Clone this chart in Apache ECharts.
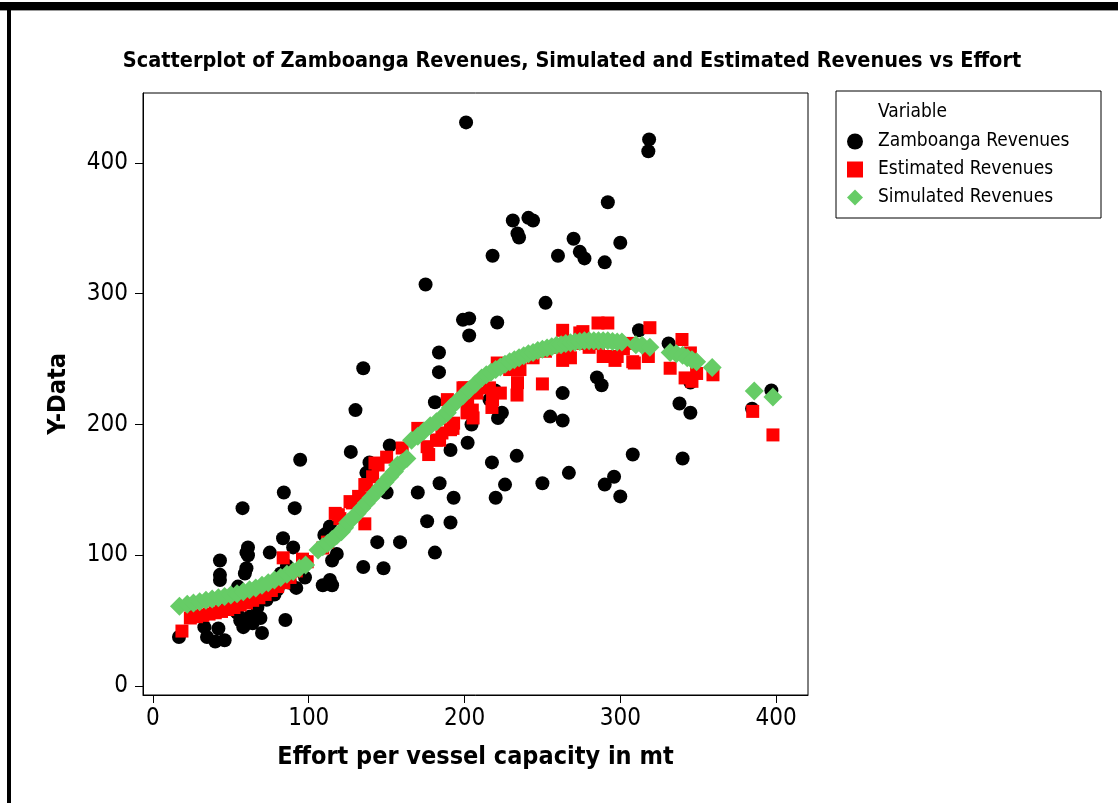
<!DOCTYPE html>
<html>
<head>
<meta charset="utf-8">
<script src="https://cdn.jsdelivr.net/npm/echarts@6/dist/echarts.min.js"></script>
<style>
  html, body { margin: 0; padding: 0; background: #fff; }
  #chart { width: 1118px; height: 803px; }
</style>
</head>
<body>
<div id="chart"></div>
<script>
// data
const seriesNames = ['Zamboanga Revenues', 'Estimated Revenues', 'Simulated Revenues'];
const xTicks = [0, 100, 200, 300, 400];
const yTicks = [0, 100, 200, 300, 400];

const zamboanga = [
  [16.7, 37.5], [25.7, 53], [33, 45], [34.7, 37.5], [40, 34], [46, 35], [42, 44],
  [43, 96], [43, 85], [43, 81], [54, 56], [56, 50], [62, 53], [54.6, 76], [60, 102],
  [60, 90], [57.5, 136], [58, 66], [59, 86], [61, 106], [61, 100], [67, 60], [69, 52],
  [70, 40.5], [73, 66], [75, 102], [58, 45], [48, 62], [52, 58], [64, 48], [66, 72],
  [78, 70], [80, 74], [88, 79], [95, 88], [82, 86], [86, 92],
  [84, 148], [91, 136], [94.5, 173], [83.5, 113], [90, 106], [85, 50.5], [92, 75],
  [97.6, 83], [97.6, 96], [109, 77], [115, 77], [113.6, 81], [115, 96], [118, 101],
  [110, 115.5], [111.7, 117], [113.6, 122], [127, 179], [130, 211], [135, 243],
  [137, 163], [139, 171], [135, 91], [144, 110], [148, 90], [150, 148], [152, 184],
  [158.6, 110], [170, 148], [175, 307], [176, 126], [181, 102], [181, 217],
  [183.6, 240], [183.6, 255], [184, 155], [191, 180.5], [191, 125], [193, 144],
  [199, 280], [201, 431], [203, 281], [203, 268], [202, 186], [204.5, 200],
  [218, 329], [221, 278], [216, 219], [221.5, 205], [217.6, 171], [220, 144],
  [226, 154], [224, 209], [219.6, 226], [231, 356], [234, 346], [235, 343],
  [241, 358], [244, 356], [233.5, 176], [252, 293], [250, 155], [255, 206],
  [260, 329], [263, 203], [263, 224], [267, 163], [270, 342], [274, 332], [277, 327],
  [285, 236], [288, 230], [290, 324], [290, 154], [292, 370], [296, 160], [300, 339],
  [300, 145], [308, 177], [312, 272], [318, 409], [318.5, 418], [331, 262],
  [338, 216], [340, 174], [345, 209], [345, 232], [384.6, 212], [397, 226]
];

const estimated = [
  [18.6, 42], [24, 52], [28, 53], [32, 54], [36, 55], [40, 56], [44, 57], [48, 58.5],
  [52, 60], [56, 62], [60, 63.5], [64, 65.5], [68, 67.5], [72, 70], [76, 73], [80, 76],
  [84, 79], [88, 83], [92, 88], [83.6, 98], [96, 97], [99, 95],
  [109, 105.5], [112, 110], [117, 132], [120, 128], [119, 131], [126.5, 141],
  [128, 140], [132, 145], [136, 154], [137, 154], [138, 144], [141, 160],
  [142.5, 170.5], [144.5, 169], [150, 175], [160, 182], [136, 124],
  [170, 197], [176, 183], [177, 177], [182, 188], [184, 188], [185.5, 193.5],
  [189, 219], [191, 196], [192.6, 197], [193, 201], [199, 228], [200, 228],
  [201.6, 209], [202, 217], [202, 209], [205, 211], [205.5, 205], [208, 224],
  [216, 228], [217.6, 213], [218, 219], [221, 247], [223, 224], [229, 242],
  [233.7, 222.5], [234, 232], [235.6, 242], [242, 253], [244, 251], [250, 231],
  [252, 256], [258, 259], [266, 258], [272, 262], [280, 259], [286, 262],
  [263, 272], [263, 249], [268, 251], [274, 270], [276, 271], [285.7, 277.6],
  [292, 277.6], [289, 252], [291.5, 252], [296.6, 249], [298, 252], [302, 258],
  [306, 262], [308, 248], [309, 247], [318, 252], [319, 274], [332, 243],
  [339.6, 265], [341.6, 235.6], [345, 254.7], [346, 233], [349, 239],
  [359.5, 238], [385, 210], [398, 192]
];

const simulated = [
  [17, 61], [22, 62.5], [26, 63.5], [30, 64.5], [34, 65.5], [38, 66.5], [42, 67.5],
  [46, 68.5], [50, 69.5], [54, 70.5], [58, 72], [62, 73.5], [66, 75], [70, 77],
  [74, 79], [78, 81], [82, 83], [86, 85.5], [90, 87.5], [94, 90], [98, 92.5],
  [106, 104], [109, 106.5], [112, 109], [115, 112], [118, 115], [121, 118], [123, 121],
  [125, 125], [128, 128], [131, 132], [134, 136], [137, 140], [140, 144], [143, 148],
  [146, 152], [149, 156], [152, 160], [155, 164],
  [157, 169], [160, 171], [163, 174],
  [166, 188], [170, 191], [174, 195], [178, 199], [182, 202], [186, 206], [189, 209],
  [191, 213], [195, 217.5], [199, 222], [203, 226.5], [207, 231],
  [211, 235.5], [214, 238], [217, 240], [220, 242], [223, 244], [226, 246],
  [229, 248], [232, 249.5], [235, 251], [238, 252.5], [241, 254], [244, 255],
  [247, 256.5], [250, 257.5], [253, 258.5], [256, 259.5], [259, 260.5], [262, 261],
  [265, 262], [268, 262.5], [271, 263], [274, 263.5], [277, 264], [280, 264],
  [283, 264], [286, 264], [289, 264], [292, 264], [295, 263.5], [298, 263],
  [301, 263], [310, 261], [314, 260.5], [319, 259], [332, 255], [336, 254],
  [340, 253], [343, 251], [346, 249.5], [349, 248], [359, 243.5], [386, 225.6],
  [398, 221]
];

const FONT = "'DejaVu Sans Condensed', 'Liberation Sans Narrow', 'Liberation Sans', sans-serif";
const BOLD_FONT = "'DejaVu Sans Condensed', 'DejaVu Sans', sans-serif";

const chart = echarts.init(document.getElementById('chart'));

const option = {
  backgroundColor: '#fff',
  animation: false,
  title: {
    text: 'Scatterplot of Zamboanga Revenues, Simulated and Estimated Revenues vs Effort',
    left: 567,
    top: 45,
    textAlign: 'center',
    textStyle: { fontFamily: BOLD_FONT, fontWeight: 'bold', fontSize: 21.5, color: '#000' }
  },
  grid: {
    left: 143, top: 93, width: 665, height: 602,
    show: true, borderColor: '#000', borderWidth: 1
  },
  legend: {
    orient: 'vertical',
    left: 847,
    top: 132,
    padding: 0,
    itemWidth: 16,
    itemHeight: 16,
    itemGap: 9,
    data: [
      { name: seriesNames[0], icon: 'circle' },
      { name: seriesNames[1], icon: 'rect' },
      { name: seriesNames[2], icon: 'diamond' }
    ],
    textStyle: { fontFamily: FONT, fontSize: 19, color: '#000', lineHeight: 16, padding: [0, 0, 0, 10] }
  },
  xAxis: {
    type: 'value',
    min: -6.4,
    max: 420.5,
    name: 'Effort per vessel capacity in mt',
    nameLocation: 'middle',
    nameGap: 50,
    nameTextStyle: { fontFamily: BOLD_FONT, fontWeight: 'bold', fontSize: 25, color: '#000' },
    axisLine: { show: true, onZero: false, lineStyle: { color: '#000', width: 1 } },
    axisTick: { show: true, inside: false, length: 8, customValues: xTicks, lineStyle: { color: '#000' } },
    axisLabel: { customValues: xTicks, margin: 12, fontFamily: FONT, fontSize: 24, color: '#000' },
    splitLine: { show: false }
  },
  yAxis: {
    type: 'value',
    min: -6.9,
    max: 453.5,
    name: 'Y-Data',
    nameLocation: 'middle',
    nameGap: 72,
    nameTextStyle: { fontFamily: BOLD_FONT, fontWeight: 'bold', fontSize: 25, color: '#000' },
    axisLine: { show: true, onZero: false, lineStyle: { color: '#000', width: 1 } },
    axisTick: { show: true, inside: false, length: 8, customValues: yTicks, lineStyle: { color: '#000' } },
    axisLabel: { customValues: yTicks, margin: 15, fontFamily: FONT, fontSize: 24, color: '#000' },
    splitLine: { show: false }
  },
  series: [
    {
      name: seriesNames[0], type: 'scatter', symbol: 'circle', symbolSize: 14,
      itemStyle: { color: '#000', opacity: 1 }, data: zamboanga, z: 2
    },
    {
      name: seriesNames[1], type: 'scatter', symbol: 'rect', symbolSize: 13,
      itemStyle: { color: '#ff0000', opacity: 1 }, data: estimated, z: 3
    },
    {
      name: seriesNames[2], type: 'scatter', symbol: 'diamond', symbolSize: 19,
      itemStyle: { color: '#66cc66', opacity: 1 }, data: simulated, z: 4
    }
  ],
  graphic: [
    { type: 'rect', shape: { x: 0, y: 2, width: 1118, height: 8 }, style: { fill: '#000' }, silent: true },
    { type: 'rect', shape: { x: 0, y: 10, width: 1118, height: 1 }, style: { fill: '#999' }, silent: true },
    { type: 'rect', shape: { x: 7, y: 2, width: 4, height: 801 }, style: { fill: '#000' }, silent: true },
    { type: 'rect', shape: { x: 836, y: 91, width: 265, height: 127 }, style: { fill: 'none', stroke: '#000', lineWidth: 1 }, silent: true },
    { type: 'text', left: 878, top: 103, style: { text: 'Variable', fontFamily: FONT, fontSize: 19, fill: '#000' }, silent: true }
  ]
};

chart.setOption(option);
</script>
</body>
</html>
